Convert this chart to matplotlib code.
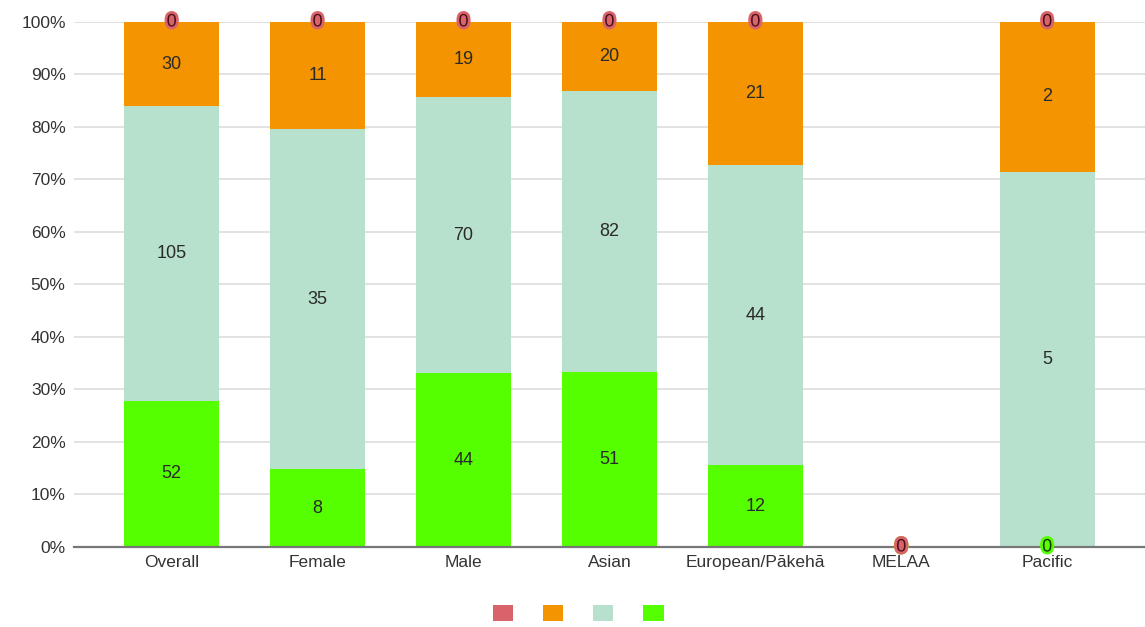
import matplotlib.pyplot as plt
import matplotlib.patheffects as pe
from matplotlib.patches import Patch
import numpy as np

plt.rcParams['font.family'] = ['Liberation Sans', 'DejaVu Sans']

groups = ['Overall', 'Female', 'Male', 'Asian', 'European/Pākehā', 'MELAA', 'Pacific']
green = np.array([52, 8, 44, 51, 12, 0, 0])
mint = np.array([105, 35, 70, 82, 44, 0, 5])
orange = np.array([30, 11, 19, 20, 21, 0, 2])
red = np.array([0, 0, 0, 0, 0, 0, 0])

# bottom to top
series = [green, mint, orange, red]
colors = ['#55ff00', '#b7e1cd', '#f39400', '#d9636a']

totals = green + mint + orange + red
safe = np.where(totals == 0, 1, totals)

fig = plt.figure(figsize=(11.45, 6.27), dpi=100)
ax = fig.add_axes([0.0646, 0.1276, 0.9354, 0.8374])

x = np.arange(len(groups))
bottom = np.zeros(len(groups))
for vals, col in zip(series, colors):
    frac = vals / safe
    ax.bar(x, frac, 0.65, bottom=bottom, color=col, zorder=2)
    for i in range(len(groups)):
        ypos = bottom[i] + frac[i] / 2
        if vals[i] == 0:
            ax.text(x[i], ypos, '0', ha='center', va='center', fontsize=13,
                    color='#4a1018' if col == '#d9636a' else '#143000', zorder=4,
                    path_effects=[pe.withStroke(linewidth=4, foreground=col)])
        else:
            ax.text(x[i], ypos, str(vals[i]), ha='center', va='center',
                    fontsize=13, color='#2a2a2a', zorder=3)
    bottom = bottom + frac

ax.set_xlim(-0.67, 6.67)
ax.set_ylim(0, 1)
ax.set_yticks(np.arange(0, 1.01, 0.1))
ax.set_yticklabels([f'{int(round(v * 100))}%' for v in np.arange(0, 1.01, 0.1)])
ax.set_xticks(x)
ax.set_xticklabels(groups)
ax.tick_params(axis='both', length=0, labelsize=12.5, colors='#333333')
ax.tick_params(axis='x', pad=6)
ax.tick_params(axis='y', pad=6)
ax.grid(axis='y', color='#dddddd', linewidth=1.2, zorder=0)
for s in ['top', 'right', 'left']:
    ax.spines[s].set_visible(False)
ax.spines['bottom'].set_color('#777777')
ax.spines['bottom'].set_linewidth(1.6)
ax.spines['bottom'].set_zorder(3)

handles = [Patch(facecolor=c) for c in ['#d9636a', '#f39400', '#b7e1cd', '#55ff00']]
fig.legend(handles, ['', '', '', ''], loc='center', bbox_to_anchor=(0.505, 0.022),
           ncol=4, frameon=False, fontsize=10, handlelength=1.45, handleheight=1.45,
           columnspacing=2.16, handletextpad=0)

fig.savefig('out.png', dpi=100)
